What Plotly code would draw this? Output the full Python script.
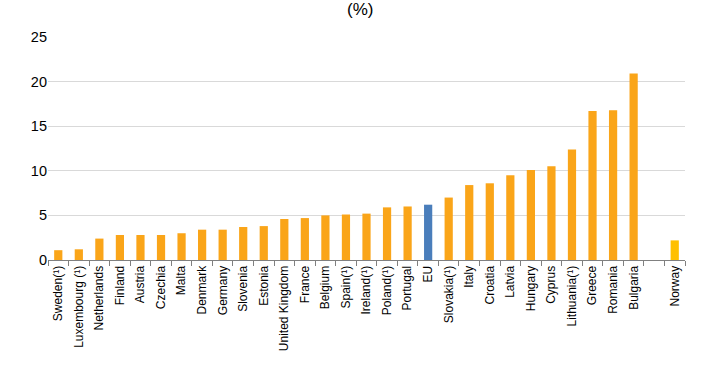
import plotly.graph_objects as go

countries = ["Sweden(¹)", "Luxembourg (¹)", "Netherlands", "Finland", "Austria", "Czechia",
             "Malta", "Denmark", "Germany", "Slovenia", "Estonia", "United Kingdom", "France",
             "Belgium", "Spain(¹)", "Ireland(¹)", "Poland(¹)", "Portugal", "EU", "Slovakia(¹)",
             "Italy", "Croatia", "Latvia", "Hungary", "Cyprus", "Lithuania(¹)", "Greece",
             "Romania", "Bulgaria", " ", "Norway"]
values = [1.1, 1.2, 2.4, 2.8, 2.8, 2.8, 3.0, 3.4, 3.4, 3.7, 3.8, 4.6, 4.7, 5.0, 5.1, 5.2,
          5.9, 6.0, 6.2, 7.0, 8.4, 8.6, 9.5, 10.1, 10.5, 12.4, 16.7, 16.8, 20.9, None, 2.2]

ORANGE = "#FAA519"
BLUE = "#4A7EBB"
YELLOW = "#FFC000"
colors = []
for c in countries:
    if c == "EU":
        colors.append(BLUE)
    elif c == "Norway":
        colors.append(YELLOW)
    else:
        colors.append(ORANGE)

fig = go.Figure(go.Bar(x=countries, y=values, marker=dict(color=colors, line=dict(width=0)),
                       hoverinfo="x+y"))

fig.update_layout(
    width=707, height=374,
    margin=dict(l=48, r=22, t=37, b=114),
    plot_bgcolor="white", paper_bgcolor="white",
    bargap=0.6,
    showlegend=False,
    font=dict(family="Liberation Sans, Arial, sans-serif", color="#000000"),
    annotations=[dict(text="(%)", x=0.49, xref="paper", y=1.125, yref="paper",
                      yanchor="middle", showarrow=False, font=dict(size=17, color="#000000"))],
)
fig.update_xaxes(
    type="category", tickangle=-90, tickfont=dict(size=12), automargin=False,
    showline=True, linecolor="#808080", linewidth=1,
    ticks="outside", tickson="boundaries", ticklen=5, tickcolor="#808080",
    showgrid=False,
)
fig.update_yaxes(
    range=[0, 25], dtick=5, tickfont=dict(size=14.5), automargin=False,
    showgrid=True, gridcolor="#D9D9D9", gridwidth=1,
    zeroline=False, showline=False, ticks="", ticklen=0,
)

fig.write_html("out.html", config={"displayModeBar": False},
               post_script="document.body.style.margin='0';document.body.style.padding='0';")
